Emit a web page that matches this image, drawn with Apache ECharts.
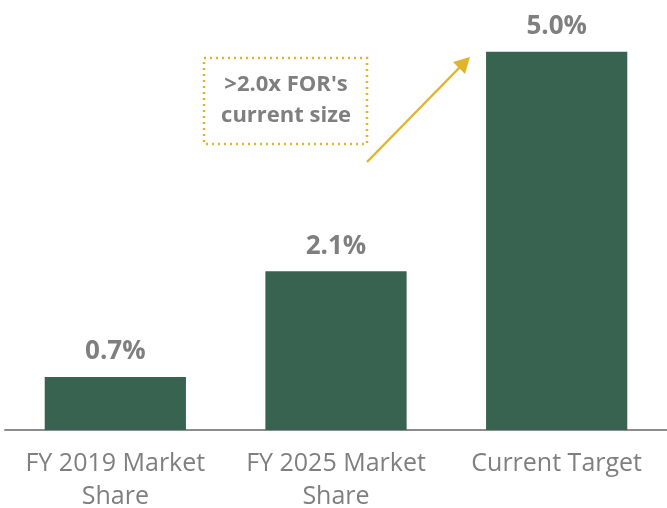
<!DOCTYPE html>
<html>
<head>
<meta charset="utf-8">
<script src="https://cdn.jsdelivr.net/npm/echarts@6/dist/echarts.min.js"></script>
<style>
	html, body { margin: 0; padding: 0; background: #fff; }
	#chart { width: 667px; height: 508px; }
</style>
</head>
<body>
<div id="chart"></div>
<script>
// Chart data
var categories = ['FY 2019 Market\nShare', 'FY 2025 Market\nShare', 'Current Target']
var shareValues = [0.7, 2.1, 5.0]
var calloutText = ">2.0x FOR's\ncurrent size"

var GREEN = '#386350'
var GRAY = '#7f7f7f'
var GOLD = '#e0b52b'
var FONT = '"Open Sans", "Noto Sans", sans-serif'

var chart = echarts.init(document.getElementById('chart'))

var option = {
	animation: false,
	grid: { left: 5, right: 0, top: 14, bottom: 78, outerBoundsMode: 'none' },
	xAxis: {
		type: 'category',
		data: categories,
		axisTick: { show: false },
		axisLine: { lineStyle: { color: '#8c8c8c', width: 2 } },
		axisLabel: {
			color: GRAY,
			fontFamily: FONT,
			fontSize: 25,
			lineHeight: 33,
			margin: 17,
			interval: 0,
		},
	},
	yAxis: {
		type: 'value',
		min: 0,
		max: 5.5,
		show: false,
		splitLine: { show: false },
	},
	series: [
		{
			type: 'bar',
			data: shareValues,
			barWidth: '64%',
			itemStyle: { color: GREEN },
			label: {
				show: true,
				position: 'top',
				distance: 12,
				color: GRAY,
				fontFamily: FONT,
				fontWeight: 'bold',
				fontSize: 26,
				formatter: function (p) {
					return p.value.toFixed(1) + '%'
				},
			},
		},
	],
	// Callout box and arrow
	graphic: [
		{
			type: 'rect',
			shape: { x: 204, y: 58, width: 163, height: 86 },
			style: { fill: 'none', stroke: GOLD, lineWidth: 2.5, lineDash: [2, 4] },
		},
		{
			type: 'text',
			x: 286,
			y: 100,
			style: {
				text: calloutText,
				fill: GRAY,
				font: 'bold 22px ' + FONT,
				lineHeight: 31,
				align: 'center',
				verticalAlign: 'middle',
			},
		},
		{
			type: 'line',
			shape: { x1: 367, y1: 162, x2: 461, y2: 66 },
			style: { stroke: GOLD, lineWidth: 2.5 },
		},
		{
			type: 'polygon',
			shape: { points: [[470, 57], [465, 74], [453, 62]] },
			style: { fill: GOLD },
		},
	],
}

chart.setOption(option)
</script>
</body>
</html>
